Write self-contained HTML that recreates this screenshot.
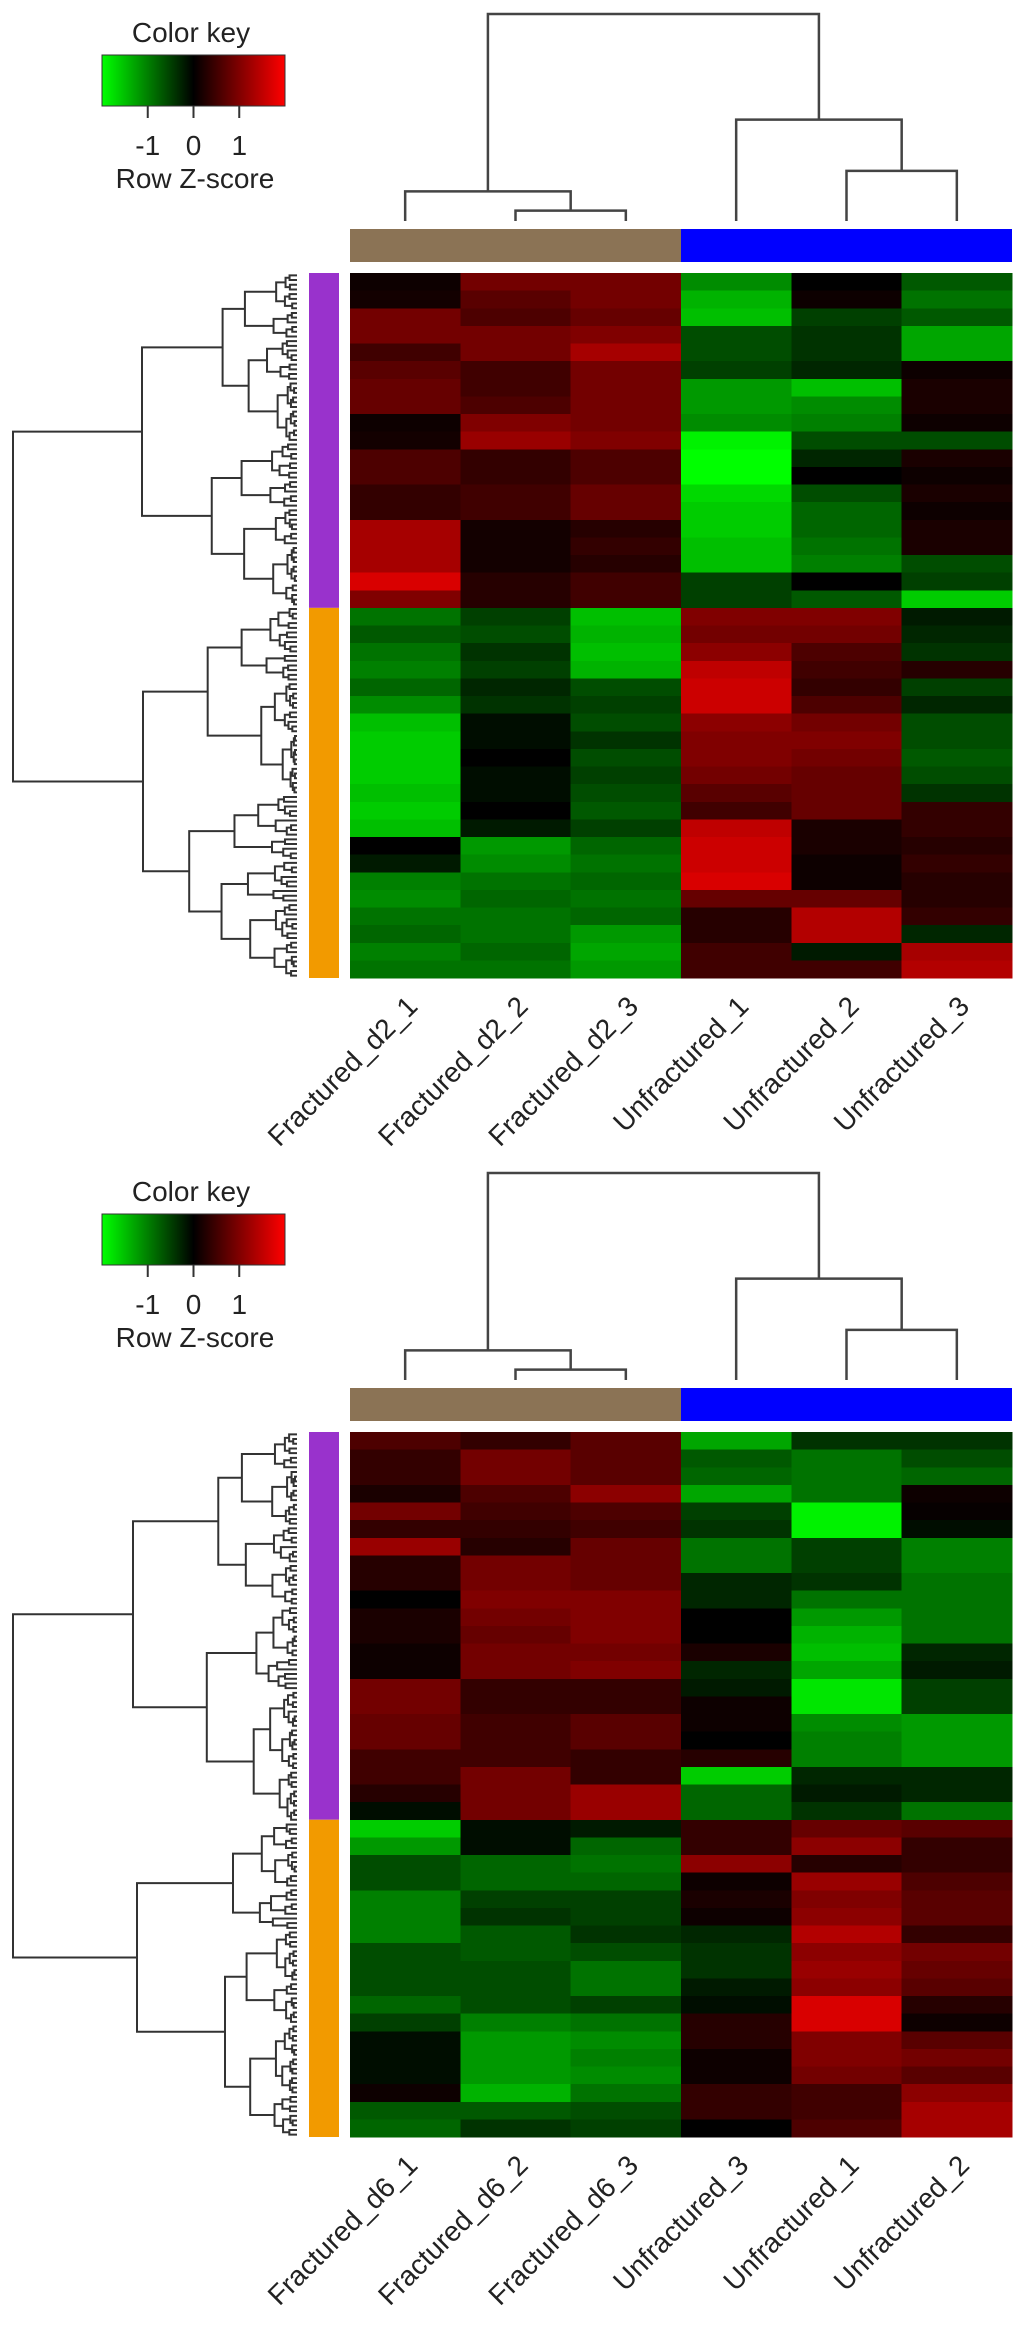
<!DOCTYPE html>
<html><head><meta charset="utf-8"><style>
html,body{margin:0;padding:0;background:#fff;}
svg{display:block;font-family:"Liberation Sans",Arial,sans-serif;}
</style></head><body>
<svg id="chart" width="1028" height="2326" viewBox="0 0 1028 2326" xmlns="http://www.w3.org/2000/svg">
<defs><linearGradient id="kg" x1="0" x2="1" y1="0" y2="0"><stop offset="0" stop-color="#00ff00"/><stop offset="0.5" stop-color="#000"/><stop offset="1" stop-color="#ff0000"/></linearGradient></defs>
</svg>
<script>
// ---- data ----
const labels1 = ["Fractured_d2_1","Fractured_d2_2","Fractured_d2_3","Unfractured_1","Unfractured_2","Unfractured_3"];
const labels2 = ["Fractured_d6_1","Fractured_d6_2","Fractured_d6_3","Unfractured_3","Unfractured_1","Unfractured_2"];
const keyTicks = [-1, 0, 1];
const purpleRows1 = 19;
const purpleRows2 = 22;
// panel 1 columns (z-scores, top to bottom)
const p1c1 = [0.1,0.15,0.9,0.9,0.5,0.7,0.8,0.8,0.1,0.15,0.6,0.6,0.4,0.4,1.3,1.3,1.3,1.7,1.0, -0.9,-0.7,-0.9,-1.0,-0.8,-1.1,-1.5,-1.6,-1.6,-1.6,-1.5,-1.6,-1.5,0,-0.2,-1.0,-1.1,-0.9,-0.8,-1.0,-0.9];
const p1c2 = [0.9,0.7,0.6,0.9,0.9,0.5,0.5,0.6,1.0,1.2,0.4,0.4,0.5,0.5,0.15,0.15,0.15,0.3,0.3, -0.5,-0.6,-0.4,-0.5,-0.3,-0.4,-0.1,-0.1,0,-0.1,-0.1,0,-0.2,-1.2,-1.1,-0.9,-0.8,-0.9,-0.9,-0.8,-0.9];
const p1c3 = [0.9,0.9,0.8,1.0,1.3,0.9,0.9,0.9,0.9,1.0,0.6,0.6,0.8,0.8,0.3,0.4,0.3,0.5,0.5, -1.5,-1.4,-1.5,-1.4,-0.6,-0.5,-0.6,-0.4,-0.6,-0.5,-0.6,-0.7,-0.5,-0.8,-0.9,-0.8,-0.9,-0.8,-1.2,-1.3,-1.2];
const p1c4 = [-1.1,-1.4,-1.5,-0.6,-0.6,-0.5,-1.2,-1.2,-1.1,-1.9,-2.0,-2.0,-1.7,-1.6,-1.6,-1.5,-1.5,-0.5,-0.5, 1.0,0.9,1.1,1.5,1.6,1.6,1.1,1.0,1.0,0.9,0.7,0.5,1.5,1.6,1.6,1.7,0.8,0.3,0.3,0.5,0.5];
const p1c5 = [0.0,0.1,-0.5,-0.4,-0.4,-0.3,-1.5,-1.1,-1.0,-0.6,-0.3,0.0,-0.6,-0.8,-0.8,-0.9,-1.0,0,-0.7, 1.0,0.9,0.6,0.5,0.4,0.6,0.9,1.0,0.9,0.8,0.8,0.8,0.2,0.2,0.1,0.1,0.8,1.4,1.4,-0.2,0.5];
const p1c6 = [-0.7,-0.9,-0.7,-1.3,-1.3,0.1,0.2,0.2,0.1,-0.6,0.2,0.1,0.2,0.1,0.2,0.2,-0.6,-0.5,-1.6, -0.2,-0.3,-0.4,0.3,-0.5,-0.3,-0.6,-0.6,-0.7,-0.6,-0.4,0.4,0.4,0.3,0.4,0.3,0.3,0.4,-0.3,1.3,1.4];
// panel 2 columns
const p2c1 = [0.6,0.4,0.4,0.2,0.9,0.4,1.2,0.3,0.3,0,0.2,0.2,0.1,0.1,0.9,0.9,0.8,0.8,0.5,0.5,0.3,-0.1, -1.6,-1.2,-0.6,-0.6,-1.0,-1.0,-1.0,-0.6,-0.6,-0.6,-0.8,-0.5,-0.1,-0.1,-0.1,0.1,-0.7,-0.8];
const p2c2 = [0.4,0.9,0.9,0.6,0.5,0.4,0.3,0.9,0.9,1.0,0.9,0.8,0.9,0.9,0.4,0.4,0.5,0.5,0.5,0.9,0.9,0.9, -0.1,-0.1,-0.8,-0.8,-0.5,-0.4,-0.7,-0.7,-0.6,-0.6,-0.6,-1.0,-1.2,-1.2,-1.2,-1.4,-0.7,-0.4];
const p2c3 = [0.7,0.7,0.7,1.1,0.6,0.5,0.8,0.8,0.8,1.0,1.0,1.0,0.9,1.0,0.4,0.4,0.7,0.7,0.4,0.4,1.2,1.2, -0.2,-0.8,-0.9,-0.8,-0.5,-0.5,-0.4,-0.6,-0.9,-0.9,-0.5,-0.9,-1.1,-1.0,-1.1,-0.9,-0.6,-0.5];
const p2c4 = [-1.3,-0.7,-0.8,-1.3,-0.5,-0.4,-0.9,-0.9,-0.3,-0.3,0,0,0.2,-0.3,-0.2,0.1,0.1,0,0.3,-1.6,-0.8,-0.8, 0.4,0.4,1.1,0.1,0.2,0.1,-0.3,-0.4,-0.4,-0.2,-0.1,0.3,0.3,0.1,0.1,0.4,0.4,0];
const p2c5 = [-0.4,-0.9,-0.9,-0.9,-1.9,-1.9,-0.5,-0.5,-0.4,-0.9,-1.2,-1.4,-1.5,-1.3,-1.8,-1.8,-1.1,-1.0,-1.0,-0.3,-0.2,-0.4, 0.8,1.1,0.3,1.2,1.0,1.1,1.4,1.1,1.2,1.1,1.7,1.7,1.0,1.0,0.9,0.5,0.5,0.6];
const p2c6 = [-0.4,-0.6,-0.8,0.1,0.05,-0.1,-1.0,-1.0,-0.9,-0.9,-0.9,-0.9,-0.3,-0.2,-0.5,-0.5,-1.2,-1.2,-1.2,-0.3,-0.3,-0.9, 0.7,0.4,0.4,0.6,0.7,0.7,0.4,0.9,0.8,0.7,0.3,0.1,0.7,0.9,0.7,1.1,1.3,1.3];
// column dendrogram merge heights (relative: 0 = leaves, 1 = root)
const colMergeLeft = [0.05, 0.143];   // (2,3) then with 1
const colMergeRight = [0.242, 0.49];  // (5,6) then with 4

// ---- drawing ----
const svg = document.getElementById('chart');
const NS = 'http://www.w3.org/2000/svg';
function mk(tag, attrs, parent){const e=document.createElementNS(NS,tag);for(const k in attrs)e.setAttribute(k,attrs[k]);(parent||svg).appendChild(e);return e;}
function zcol(z){const t=Math.max(-1,Math.min(1,z/2));let r=0,g=0;if(t>0)r=Math.round(255*t);else g=Math.round(-255*t);return `rgb(${r},${g},0)`;}
const HX0=350, HX1=1012, CW=(HX1-HX0)/6;
const keyX0=102, keyX1=285;
function keyScale(v){return keyX0+(v+2)/4*(keyX1-keyX0);}

function panel(off, cols, labels, purpleRows, ratioSeq){
  const g = mk('g',{});
  
  
  // color key
  const kg = mk('g',{},g);
  
  
  const t1 = mk('text',{x:191,y:off+42,'font-size':28,'text-anchor':'middle',fill:'#222'},kg); t1.textContent='Color key';
  
  
  const kr = mk('rect',{x:keyX0,y:off+55,width:keyX1-keyX0,height:51,fill:'url(#kg)',stroke:'#333','stroke-width':1},kg);
  
  
  keyTicks.forEach(v=>{
    const x=keyScale(v);
    const tl = mk('line',{x1:x,x2:x,y1:off+106,y2:off+118,stroke:'#333','stroke-width':2},kg);
    
    
    const tt = mk('text',{x:x,y:off+155,'font-size':28,'text-anchor':'middle',fill:'#222'},kg); tt.textContent=String(v);
    
    
  });
  const t2 = mk('text',{x:195,y:off+188,'font-size':28,'text-anchor':'middle',fill:'#222'},kg); t2.textContent='Row Z-score';
  
  

  // column dendrogram
  const cd = mk('g',{stroke:'#444','stroke-width':2.5,fill:'none'},g);
  
  
  const cx = i => HX0 + CW*(i+0.5);
  const yLeaf = off+221, yRoot = off+14;
  const hy = h => yLeaf - h*(yLeaf-yRoot);
  const a = hy(colMergeLeft[0]), b = hy(colMergeLeft[1]), c = hy(colMergeRight[0]), d = hy(colMergeRight[1]);
  const mL1 = (cx(1)+cx(2))/2, mL = (cx(0)+mL1)/2, mR1=(cx(4)+cx(5))/2, mR=(cx(3)+mR1)/2;
  const pd = `M${cx(1)},${yLeaf}V${a}H${cx(2)}V${yLeaf} M${cx(0)},${yLeaf}V${b}H${mL1}V${a} M${cx(4)},${yLeaf}V${c}H${cx(5)}V${yLeaf} M${cx(3)},${yLeaf}V${d}H${mR1}V${c} M${mL},${b}V${yRoot}H${mR}V${d}`;
  mk('path',{d:pd},cd);

  // column side colors
  const cb1 = mk('rect',{x:HX0,y:off+229,width:CW*3,height:33,fill:'#8b7355'},g);
  
  
  const cb2 = mk('rect',{x:HX0+CW*3,y:off+229,width:CW*3,height:33,fill:'#0000ff'},g);
  
  

  // heatmap
  const HY0=off+273, HY1=off+978;
  const nRows = cols[0].length;
  const RH = (HY1-HY0)/nRows;
  const hm = mk('g',{'shape-rendering':'crispEdges'},g);
  
  
  cols.forEach((col,ci)=>{
    col.forEach((v,ri)=>{
      const r = mk('rect',{x:HX0+ci*CW,y:HY0+ri*RH,width:CW+0.5,height:RH+0.5,fill:zcol(v)},hm);
      
      
    });
  });
  // row side colors
  const yP = HY0 + purpleRows*RH;
  const rs1 = mk('rect',{x:309,y:HY0,width:30,height:yP-HY0,fill:'#9932cc'},g);
  
  
  const rs2 = mk('rect',{x:309,y:yP,width:30,height:HY1-yP,fill:'#f29a00'},g);
  
  

  // row dendrogram (structural decoration)
  const rd = mk('g',{stroke:'#333','stroke-width':2,fill:'none'},g);
  
  
  const LEAFX=297, nLeaves=150;
  const nP = Math.round(nLeaves*purpleRows/nRows);
  const LH=(HY1-HY0)/nLeaves;
  const fr=[0.38,0.52,0.3,0.6,0.45,0.35,0.55,0.42];
  let ctr=0, path='';
  function build(lo,hi,x){
    if(hi-lo===1) return {y:HY0+(lo+0.5)*LH, x:LEAFX};
    const n=hi-lo; const r=ratioSeq[ctr%ratioSeq.length]; ctr++;
    let s=lo+Math.max(1,Math.min(n-1,Math.round(n*r)));
    const f1=fr[ctr%fr.length], f2=fr[(ctr+3)%fr.length];
    const xa = n<=2?LEAFX: x+(LEAFX-x)*f1;
    const xb = n<=2?LEAFX: x+(LEAFX-x)*f2;
    const A=build(lo,s,Math.min(xa,LEAFX-2)), B=build(s,hi,Math.min(xb,LEAFX-2));
    path += `M${A.x},${A.y}H${x}V${B.y}H${B.x}`;
    return {y:(A.y+B.y)/2,x:x};
  }
  const P=build(0,nP,off===0?142:133);
  const O=build(nP,nLeaves,off===0?143:137);
  path += `M${P.x},${P.y}H13V${O.y}H${O.x}`;
  mk('path',{d:path},rd);

  // column labels
  labels.forEach((lab,i)=>{
    const x=cx(i)+14, y=off+1008;
    const t = mk('text',{x:x,y:y,'font-size':28,'text-anchor':'end',fill:'#222',transform:`rotate(-45 ${x} ${y})`},g);
    t.textContent=lab;
    
    
  });
}
panel(0,[p1c1,p1c2,p1c3,p1c4,p1c5,p1c6],labels1,purpleRows1,[0.5,0.4,0.6,0.45,0.55,0.35,0.65]);
panel(1159,[p2c1,p2c2,p2c3,p2c4,p2c5,p2c6],labels2,purpleRows2,[0.45,0.55,0.4,0.6,0.5,0.35,0.62]);
</script>
</body></html>
